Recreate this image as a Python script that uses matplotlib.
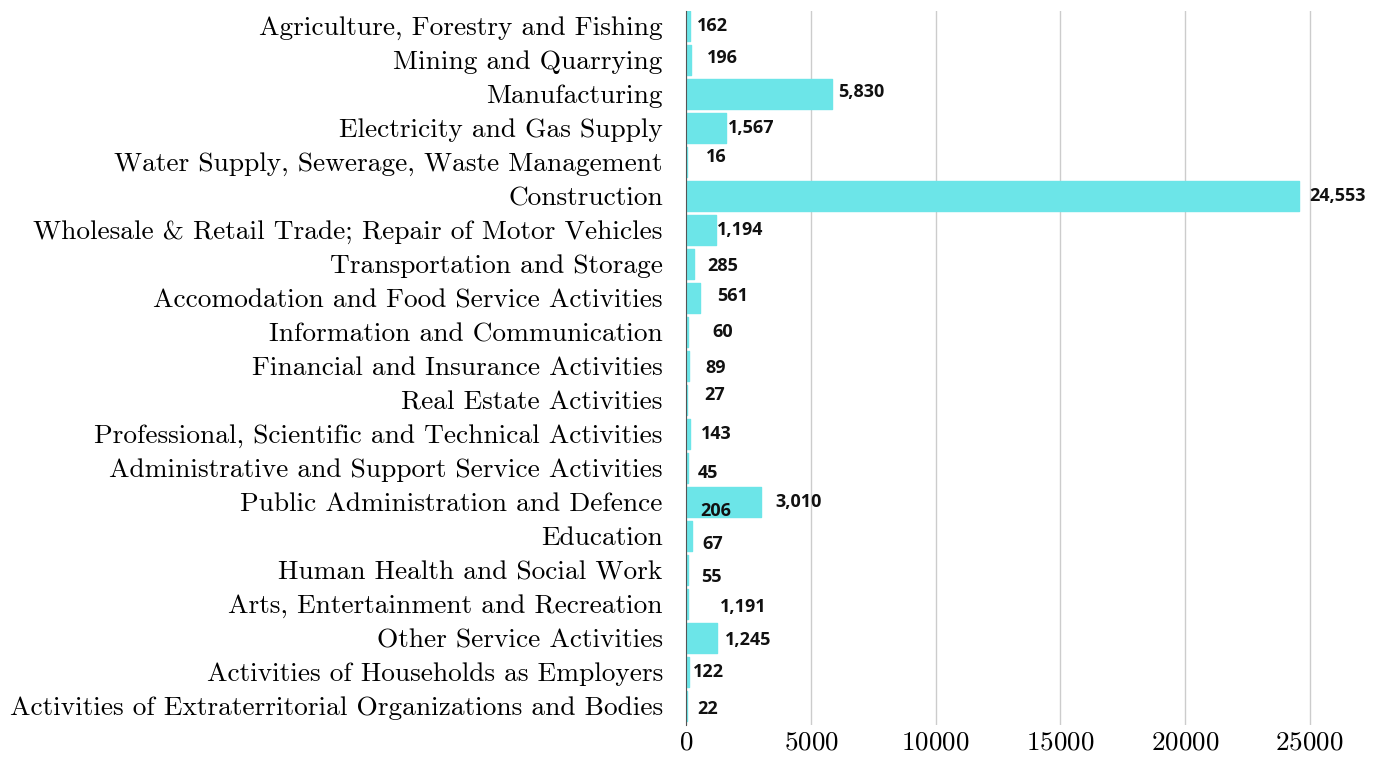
import matplotlib
matplotlib.use("Agg")
import matplotlib.pyplot as plt

# categories, top to bottom
sectors = [
    "Agriculture, Forestry and Fishing",
    "Mining and Quarrying",
    "Manufacturing",
    "Electricity and Gas Supply",
    "Water Supply, Sewerage, Waste Management",
    "Construction",
    "Wholesale & Retail Trade; Repair of Motor Vehicles",
    "Transportation and Storage",
    "Accomodation and Food Service Activities",
    "Information and Communication",
    "Financial and Insurance Activities",
    "Real Estate Activities",
    "Professional, Scientific and Technical Activities",
    "Administrative and Support Service Activities",
    "Public Administration and Defence",
    "Education",
    "Human Health and Social Work",
    "Arts, Entertainment and Recreation",
    "Other Service Activities",
    "Activities of Households as Employers",
    "Activities of Extraterritorial Organizations and Bodies",
]
counts = [162, 196, 5830, 1567, 16, 24553, 1194, 285, 561, 60, 89, 27,
          143, 45, 3010, 206, 67, 55, 1245, 122, 22]

# value labels as they sit in the picture (some drifted off their own bar)
label_values = [162, 196, 5830, 1567, 16, 24553, 1194, 285, 561, 60, 89, 27,
                143, 45, 3010, 206, 67, 55, 1191, 1245, 122, 22]
label_rows = [0, 1, 2, 3, 4, 5, 6, 7, 8, 9, 10, 11,
              12, 13, 14, 15, 15, 16, 17, 18, 19, 20]
# offsets in pixels from (value, row)
label_dx = [6, 16, 6, 2, 19, 11, 1, 14, 17, 24, 17, 17,
            11, 10, 14, 9, 14, 13, 4, 7, 3, 10]
label_dy = [0, 2, 2, 0, 5, 0, 0, -2, 2, 0, -2, 5,
            0, -5, 0, 25, -8, -7, -3, -2, 0, -3]

plt.rcParams['font.family'] = 'serif'
plt.rcParams['font.serif'] = ['cmr10']
plt.rcParams['axes.formatter.use_mathtext'] = True

fig = plt.figure(figsize=(13.82, 7.57), dpi=100)
ax = fig.add_axes([0.4967, 0.0423, 0.478, 0.9432])

ypos = list(range(len(sectors)))
ax.barh(ypos, counts, height=0.87, color='#6ce5e8', edgecolor='#6ce5e8',
        linewidth=1, joinstyle='round', zorder=2)

for val, row, dx, dy in zip(label_values, label_rows, label_dx, label_dy):
    ax.annotate(f"{val:,}", xy=(val, row), xytext=(dx, dy),
                textcoords='offset pixels', ha='left', va='center',
                fontsize=13, fontweight='bold', family='Open Sans',
                color='#111111', zorder=3)

ax.set_yticks(ypos)
ax.set_yticklabels(sectors, fontsize=19.7)
ax.set_ylim(20.56, -0.44)
ax.set_xlim(0, 26500)
ax.set_xticks([0, 5000, 10000, 15000, 20000, 25000])
ax.tick_params(axis='x', labelsize=19.5, length=0, pad=4)
ax.tick_params(axis='y', length=0, pad=17)

ax.grid(axis='x', color='#cccccc', linewidth=1, zorder=0)
for side in ['top', 'right', 'bottom']:
    ax.spines[side].set_visible(False)
ax.spines['left'].set_color('#555555')
ax.spines['left'].set_linewidth(0.8)

plt.savefig('out.png', dpi=100)
